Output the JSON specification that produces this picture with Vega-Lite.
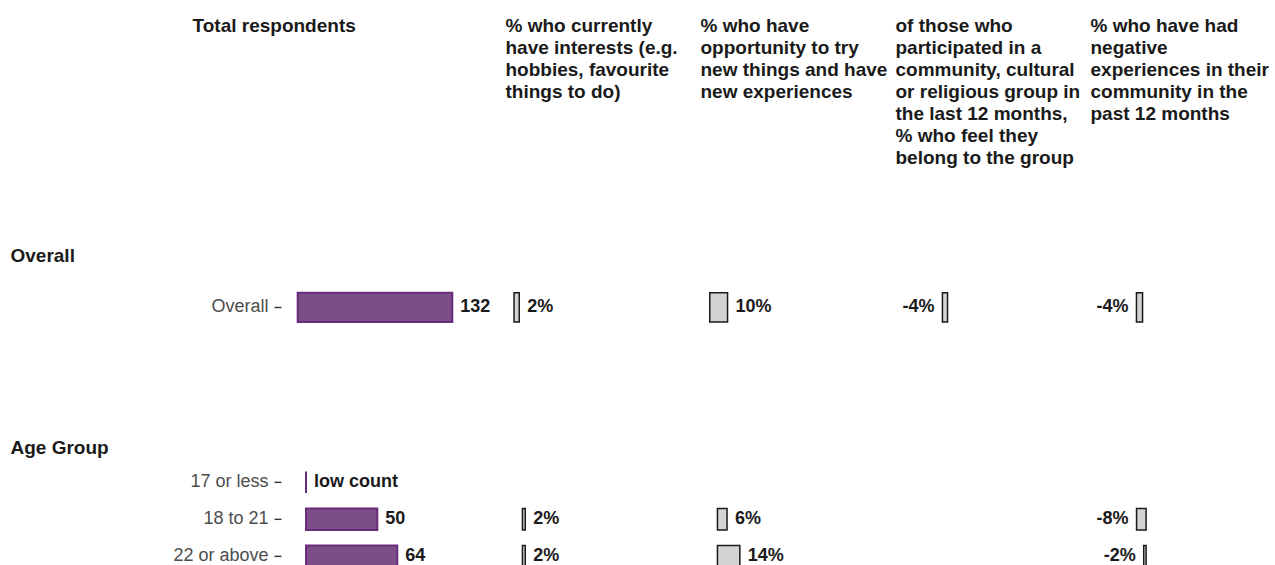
{
  "$schema": "https://vega.github.io/schema/vega-lite/v6.json",
  "background": "white",
  "padding": {"left": 10, "top": 16, "right": 0, "bottom": 0},
  "config": {
    "view": {"stroke": null},
    "font": "Liberation Sans",
    "axis": {
      "grid": false, "domain": false,
      "titleFont": "Liberation Sans", "titleFontSize": 19, "titleFontWeight": "bold", "titleColor": "#1a1a1a",
      "titleLineHeight": 22, "titlePadding": 0,
      "labelFont": "Liberation Sans", "labelFontSize": 18, "labelColor": "#4d4d4d",
      "tickColor": "#333333", "tickWidth": 1.4, "tickSize": 7, "labelPadding": 6
    }
  },
  "datasets": {
    "rows": [
      {"section": "Overall", "group": "Overall", "total": 132, "totalLabel": "132", "interests": 2, "interestsLabel": "2%", "opportunity": 10, "opportunityLabel": "10%", "belong": -4, "belongLabel": "-4%", "negative": -4, "negativeLabel": "-4%"},
      {"section": "Age Group", "group": "17 or less", "total": 0, "totalLabel": "low count", "interests": null, "interestsLabel": null, "opportunity": null, "opportunityLabel": null, "belong": null, "belongLabel": null, "negative": null, "negativeLabel": null},
      {"section": "Age Group", "group": "18 to 21", "total": 50, "totalLabel": "50", "interests": 2, "interestsLabel": "2%", "opportunity": 6, "opportunityLabel": "6%", "belong": null, "belongLabel": null, "negative": -8, "negativeLabel": "-8%"},
      {"section": "Age Group", "group": "22 or above", "total": 64, "totalLabel": "64", "interests": 2, "interestsLabel": "2%", "opportunity": 14, "opportunityLabel": "14%", "belong": null, "belongLabel": null, "negative": -2, "negativeLabel": "-2%"}
    ]
  },
  "spacing": 181.85,
  "bounds": "flush",
  "vconcat": [
    {
      "spacing": 0,
      "bounds": "flush",
      "hconcat": [
        {
          "width": 224, "height": 50.7,
          "data": {"name": "rows"},
          "transform": [{"filter": "datum.section === 'Overall'"}],
          "encoding": {
            "y": {"field": "group", "type": "nominal", "scale": {"domain": ["Overall"], "paddingInner": 0.42, "paddingOuter": 0.21},
                  "axis": {"title": "Overall", "titleX": -271, "titleY": -20.5, "titleAngle": 0, "titleAlign": "left", "titleBaseline": "alphabetic"}},
            "x": {"field": "total", "type": "quantitative", "scale": {"domain": [-14.26, 177], "nice": false},
                  "axis": {"orient": "top", "labels": false, "ticks": false, "title": "Total respondents", "titleX": -89, "titleY": -250.25, "titleAngle": 0, "titleAlign": "left", "titleBaseline": "alphabetic"}}
          },
          "layer": [
            {"mark": {"type": "bar", "fill": "#7c4d86", "stroke": "#6a2c7a", "strokeWidth": 2}},
            {"mark": {"type": "text", "align": "left", "baseline": "middle", "dx": 8, "fontSize": 18, "fontWeight": "bold", "fill": "#1a1a1a"}, "encoding": {"text": {"field": "totalLabel"}}}
          ]
        },
        {
          "width": 195, "height": 50.7,
          "data": {"name": "rows"},
          "transform": [{"filter": "datum.section === 'Overall'"}],
          "encoding": {
            "y": {"field": "group", "type": "nominal", "scale": {"domain": ["Overall"], "paddingInner": 0.42, "paddingOuter": 0.21}, "axis": null},
            "x": {"field": "interests", "type": "quantitative", "scale": {"domain": [-3.48, 71.5], "nice": false},
                  "axis": {"orient": "top", "labels": false, "ticks": false, "title": ["% who currently", "have interests (e.g.", "hobbies, favourite", "things to do)"], "titleX": 0, "titleY": -250.25, "titleAngle": 0, "titleAlign": "left", "titleBaseline": "alphabetic"}}
          },
          "layer": [
            {"mark": {"type": "bar", "fill": "#d3d3d3", "stroke": "#1a1a1a", "strokeWidth": 1.5}},
            {"mark": {"type": "text", "align": "left", "baseline": "middle", "dx": 8, "fontSize": 18, "fontWeight": "bold", "fill": "#1a1a1a"}, "encoding": {"text": {"field": "interestsLabel"}}}
          ]
        },
        {
          "width": 195, "height": 50.7,
          "data": {"name": "rows"},
          "transform": [{"filter": "datum.section === 'Overall'"}],
          "encoding": {
            "y": {"field": "group", "type": "nominal", "scale": {"domain": ["Overall"], "paddingInner": 0.42, "paddingOuter": 0.21}, "axis": null},
            "x": {"field": "opportunity", "type": "quantitative", "scale": {"domain": [-5.48, 104.07], "nice": false},
                  "axis": {"orient": "top", "labels": false, "ticks": false, "title": ["% who have", "opportunity to try", "new things and have", "new experiences"], "titleX": 0, "titleY": -250.25, "titleAngle": 0, "titleAlign": "left", "titleBaseline": "alphabetic"}}
          },
          "layer": [
            {"mark": {"type": "bar", "fill": "#d3d3d3", "stroke": "#1a1a1a", "strokeWidth": 1.5}},
            {"mark": {"type": "text", "align": "left", "baseline": "middle", "dx": 8, "fontSize": 18, "fontWeight": "bold", "fill": "#1a1a1a"}, "encoding": {"text": {"field": "opportunityLabel"}}}
          ]
        },
        {
          "width": 195, "height": 50.7,
          "data": {"name": "rows"},
          "transform": [{"filter": "datum.section === 'Overall'"}],
          "encoding": {
            "y": {"field": "group", "type": "nominal", "scale": {"domain": ["Overall"], "paddingInner": 0.42, "paddingOuter": 0.21}, "axis": null},
            "x": {"field": "belong", "type": "quantitative", "scale": {"domain": [-41.2, 111.7], "nice": false},
                  "axis": {"orient": "top", "labels": false, "ticks": false, "title": ["of those who", "participated in a", "community, cultural", "or religious group in", "the last 12 months,", "% who feel they", "belong to the group"], "titleX": 0, "titleY": -250.25, "titleAngle": 0, "titleAlign": "left", "titleBaseline": "alphabetic"}}
          },
          "layer": [
            {"mark": {"type": "bar", "fill": "#d3d3d3", "stroke": "#1a1a1a", "strokeWidth": 1.5}},
            {"mark": {"type": "text", "align": "right", "baseline": "middle", "dx": -8, "fontSize": 18, "fontWeight": "bold", "fill": "#1a1a1a"}, "encoding": {"text": {"field": "belongLabel"}}}
          ]
        },
        {
          "width": 185, "height": 50.7,
          "data": {"name": "rows"},
          "transform": [{"filter": "datum.section === 'Overall'"}],
          "encoding": {
            "y": {"field": "group", "type": "nominal", "scale": {"domain": ["Overall"], "paddingInner": 0.42, "paddingOuter": 0.21}, "axis": null},
            "x": {"field": "negative", "type": "quantitative", "scale": {"domain": [-34.46, 86.85], "nice": false},
                  "axis": {"orient": "top", "labels": false, "ticks": false, "title": ["% who have had", "negative", "experiences in their", "community in the", "past 12 months"], "titleX": 0, "titleY": -250.25, "titleAngle": 0, "titleAlign": "left", "titleBaseline": "alphabetic"}}
          },
          "layer": [
            {"mark": {"type": "bar", "fill": "#d3d3d3", "stroke": "#1a1a1a", "strokeWidth": 1.5}},
            {"mark": {"type": "text", "align": "right", "baseline": "middle", "dx": -8, "fontSize": 18, "fontWeight": "bold", "fill": "#1a1a1a"}, "encoding": {"text": {"field": "negativeLabel"}}}
          ]
        }
      ]
    },
    {
      "spacing": 0,
      "bounds": "flush",
      "hconcat": [
        {
          "width": 224, "height": 111,
          "data": {"name": "rows"},
          "transform": [{"filter": "datum.section === 'Age Group'"}],
          "encoding": {
            "y": {"field": "group", "type": "nominal", "scale": {"domain": ["17 or less", "18 to 21", "22 or above"], "paddingInner": 0.42, "paddingOuter": 0.21},
                  "axis": {"title": "Age Group", "titleX": -271, "titleY": -10.5, "titleAngle": 0, "titleAlign": "left", "titleBaseline": "alphabetic"}},
            "x": {"field": "total", "type": "quantitative", "scale": {"domain": [-17.53, 139.55], "nice": false}, "axis": null}
          },
          "layer": [
            {"mark": {"type": "bar", "fill": "#7c4d86", "stroke": "#6a2c7a", "strokeWidth": 2}},
            {"mark": {"type": "text", "align": "left", "baseline": "middle", "dx": 8, "fontSize": 18, "fontWeight": "bold", "fill": "#1a1a1a"}, "encoding": {"text": {"field": "totalLabel"}}}
          ]
        },
        {
          "width": 195, "height": 111,
          "data": {"name": "rows"},
          "transform": [{"filter": "datum.section === 'Age Group'"}],
          "encoding": {
            "y": {"field": "group", "type": "nominal", "scale": {"domain": ["17 or less", "18 to 21", "22 or above"], "paddingInner": 0.42, "paddingOuter": 0.21}, "axis": null},
            "x": {"field": "interests", "type": "quantitative", "scale": {"domain": [-12.46, 126.8], "nice": false}, "axis": null}
          },
          "layer": [
            {"mark": {"type": "bar", "fill": "#d3d3d3", "stroke": "#1a1a1a", "strokeWidth": 1.5}},
            {"mark": {"type": "text", "align": "left", "baseline": "middle", "dx": 8, "fontSize": 18, "fontWeight": "bold", "fill": "#1a1a1a"}, "encoding": {"text": {"field": "interestsLabel"}}}
          ]
        },
        {
          "width": 195, "height": 111,
          "data": {"name": "rows"},
          "transform": [{"filter": "datum.section === 'Age Group'"}],
          "encoding": {
            "y": {"field": "group", "type": "nominal", "scale": {"domain": ["17 or less", "18 to 21", "22 or above"], "paddingInner": 0.42, "paddingOuter": 0.21}, "axis": null},
            "x": {"field": "opportunity", "type": "quantitative", "scale": {"domain": [-10.9, 110.97], "nice": false}, "axis": null}
          },
          "layer": [
            {"mark": {"type": "bar", "fill": "#d3d3d3", "stroke": "#1a1a1a", "strokeWidth": 1.5}},
            {"mark": {"type": "text", "align": "left", "baseline": "middle", "dx": 8, "fontSize": 18, "fontWeight": "bold", "fill": "#1a1a1a"}, "encoding": {"text": {"field": "opportunityLabel"}}}
          ]
        },
        {
          "width": 195, "height": 111,
          "data": {"name": "rows"},
          "transform": [{"filter": "datum.section === 'Age Group'"}],
          "encoding": {
            "y": {"field": "group", "type": "nominal", "scale": {"domain": ["17 or less", "18 to 21", "22 or above"], "paddingInner": 0.42, "paddingOuter": 0.21}, "axis": null},
            "x": {"field": "belong", "type": "quantitative", "scale": {"domain": [-40, 110], "nice": false}, "axis": null}
          },
          "layer": [
            {"mark": {"type": "bar", "fill": "#d3d3d3", "stroke": "#1a1a1a", "strokeWidth": 1.5}},
            {"mark": {"type": "text", "align": "right", "baseline": "middle", "dx": -8, "fontSize": 18, "fontWeight": "bold", "fill": "#1a1a1a"}, "encoding": {"text": {"field": "belongLabel"}}}
          ]
        },
        {
          "width": 185, "height": 111,
          "data": {"name": "rows"},
          "transform": [{"filter": "datum.section === 'Age Group'"}],
          "encoding": {
            "y": {"field": "group", "type": "nominal", "scale": {"domain": ["17 or less", "18 to 21", "22 or above"], "paddingInner": 0.42, "paddingOuter": 0.21}, "axis": null},
            "x": {"field": "negative", "type": "quantitative", "scale": {"domain": [-47, 108], "nice": false}, "axis": null}
          },
          "layer": [
            {"mark": {"type": "bar", "fill": "#d3d3d3", "stroke": "#1a1a1a", "strokeWidth": 1.5}},
            {"mark": {"type": "text", "align": "right", "baseline": "middle", "dx": -8, "fontSize": 18, "fontWeight": "bold", "fill": "#1a1a1a"}, "encoding": {"text": {"field": "negativeLabel"}}}
          ]
        }
      ]
    }
  ]
}
